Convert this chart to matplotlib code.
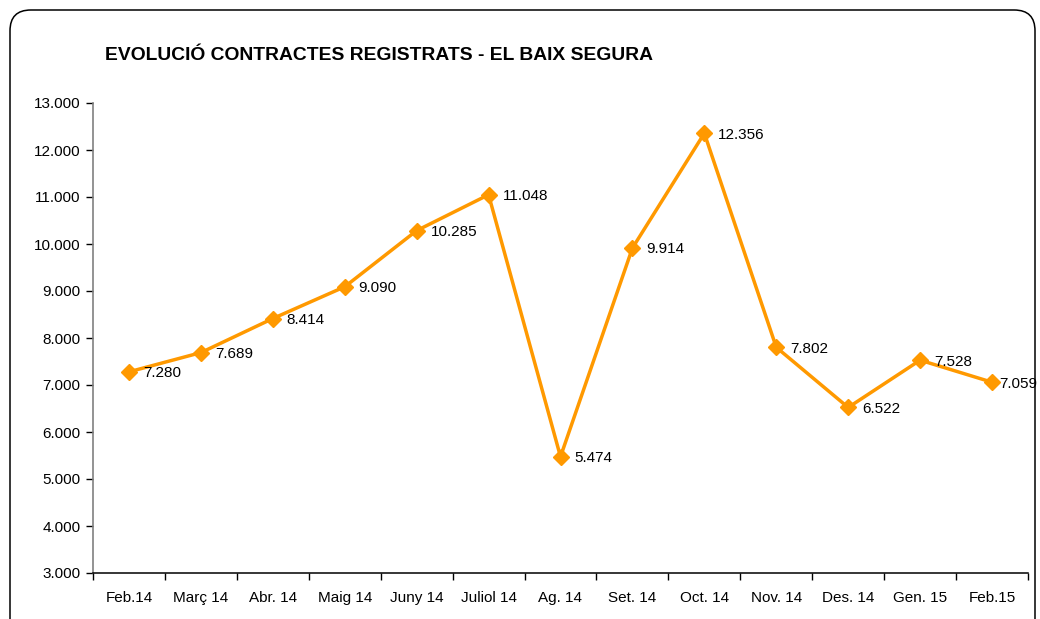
import matplotlib.pyplot as plt
from matplotlib.patches import FancyBboxPatch
from matplotlib.ticker import FuncFormatter, FixedLocator

months = ["Feb.14", "Març 14", "Abr. 14", "Maig 14", "Juny 14", "Juliol 14", "Ag. 14",
          "Set. 14", "Oct. 14", "Nov. 14", "Des. 14", "Gen. 15", "Feb.15"]
contracts = [7280, 7689, 8414, 9090, 10285, 11048, 5474, 9914, 12356, 7802, 6522, 7528, 7059]

ORANGE = "#FF9900"

plt.rcParams["font.family"] = ["Liberation Sans", "DejaVu Sans"]

fig = plt.figure(figsize=(10.4, 6.19), dpi=100)

# rounded frame around the whole chart area
frame = FancyBboxPatch((10 / 1040, -0.05), 1025 / 1040, 1 - 10 / 619 + 0.05,
                       boxstyle="round,pad=0,rounding_size=0.02",
                       transform=fig.transFigure, facecolor="none",
                       edgecolor="black", linewidth=1.1, mutation_aspect=1040 / 619,
                       zorder=-1)
fig.patches.append(frame)

ax = fig.add_axes([93 / 1040, 1 - 573 / 619, (1028 - 93) / 1040, (573 - 103) / 619])
ax.set_facecolor("none")

x = list(range(len(months)))
ax.plot(x, contracts, color=ORANGE, linewidth=2.5, marker="D", markersize=8,
        markerfacecolor=ORANGE, markeredgecolor=ORANGE, zorder=3, clip_on=False)

for xi, v in zip(x, contracts):
    # the last label sits tighter so it stays inside the frame
    dx = 5.5 if xi == len(months) - 1 else 10
    ax.annotate(f"{v / 1000:.3f}", (xi, v), xytext=(dx, -1), textcoords="offset points",
                ha="left", va="center", fontsize=11, color="black")

ax.set_xlim(-0.5, len(months) - 0.5)
ax.set_ylim(3000, 13000)
ax.set_yticks(range(3000, 13001, 1000))
ax.yaxis.set_major_formatter(FuncFormatter(lambda v, p: f"{int(v) // 1000}.000"))

ax.set_xticks(x)
ax.set_xticklabels(months)
ax.xaxis.set_minor_locator(FixedLocator([i - 0.5 for i in range(len(months) + 1)]))
ax.tick_params(axis="x", which="major", length=0, pad=13, labelsize=11)
ax.tick_params(axis="x", which="minor", length=5, width=1, direction="out")
ax.tick_params(axis="y", length=5, width=1, direction="out", labelsize=11, pad=4)

for s in ["top", "right"]:
    ax.spines[s].set_visible(False)
ax.spines["left"].set_color("#808080")
ax.spines["left"].set_linewidth(1.2)
ax.spines["bottom"].set_color("black")
ax.spines["bottom"].set_linewidth(1.1)

fig.text(105 / 1040, 1 - 55 / 619, "EVOLUCIÓ CONTRACTES REGISTRATS - EL BAIX SEGURA",
         fontsize=13.9, fontweight="bold", ha="left", va="center")

fig.savefig("out.png", dpi=100)
